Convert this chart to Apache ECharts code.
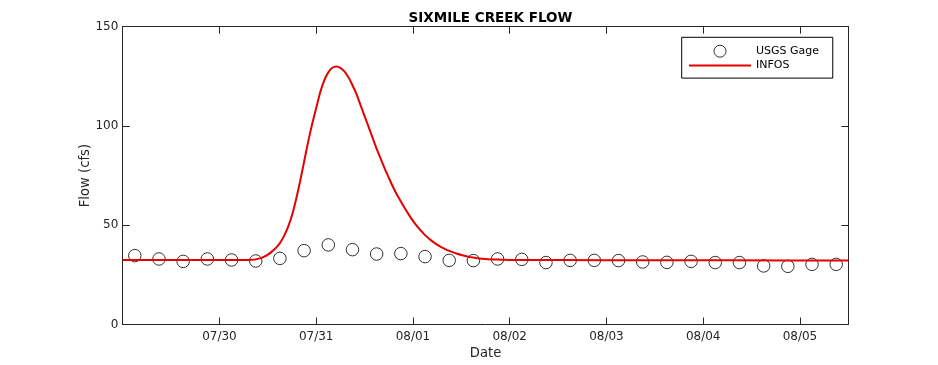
<!DOCTYPE html>
<html>
<head>
<meta charset="utf-8">
<script src="https://cdn.jsdelivr.net/npm/echarts@6/dist/echarts.min.js"></script>
<style>
html,body{margin:0;padding:0;background:#fff;}
#chart{width:938px;height:365px;}
</style>
</head>
<body>
<div id="chart"></div>
<script>
// Hours since 07/29 00:00
var tickLabels = ['07/29','07/30','07/31','08/01','08/02','08/03','08/04','08/05'];
var usgsHours = [3,9,15,21,27,33,39,45,51,57,63,69,75,81,87,93,99,105,111,117,123,129,135,141,147,153,159,165,171,177];
var usgsFlow  = [34.7,33.0,31.8,33.0,32.5,32.0,33.3,37.2,40.1,37.7,35.5,35.7,34.2,32.3,32.2,33.0,32.8,31.2,32.3,32.3,32.2,31.5,31.3,31.8,31.2,31.2,29.5,29.3,30.3,30.3];
var infosHours = [0,12,24,30,32,33,34,35,36,37,38,39,40,41,42,43,44,45,46,47,48,49,50,51,52,53,54,55,56,57,58,59,60,61,62,63,64,65,66,67,68,69,70,71,72,73,74,75,76,77,78,79,80,81,82,83,84,85,86,88,90,93,96,120,150,180];
var infosFlow  = [32.5,32.5,32.5,32.5,32.6,32.8,33.3,34.1,35.2,36.7,38.6,41,44.5,49,55,63,72,82,92,101,109,117,123,127,129.3,130,129.3,127.5,124.5,120.5,116,110.5,105,99.5,94,88.5,83.5,78.5,74,69.5,65.5,62,58.5,55.2,52.2,49.5,47.2,45,43.2,41.6,40.2,39,38,37.1,36.3,35.6,35,34.5,34,33.4,33,32.7,32.5,32.4,32.3,32.2];

function pairs(xs, ys){ return xs.map(function(x,i){return [x, ys[i]];}); }

var FONT = 'DejaVu Sans';
var AX = '#262626';
var RED = '#e60000';
var chart = echarts.init(document.getElementById('chart'), null, {renderer:'canvas'});
var xBase = {
  type:'value', min:0, max:180, interval:24,
  axisLine:{show:true, onZero:false, lineStyle:{color:AX, width:1}},
  axisTick:{show:true, inside:true, length:7, lineStyle:{color:AX}},
  splitLine:{show:false}
};
var yBase = {
  type:'value', min:0, max:150, interval:50,
  axisLine:{show:true, onZero:false, lineStyle:{color:AX, width:1}},
  axisTick:{show:true, inside:true, length:7, lineStyle:{color:AX}},
  splitLine:{show:false}
};
chart.setOption({
  animation:false,
  backgroundColor:'#fff',
  title:{
    text:'SIXMILE CREEK FLOW', left:485.5, top:6, textAlign:'center',
    textStyle:{fontFamily:FONT, fontSize:13.5, fontWeight:'bold', color:'#000'}
  },
  grid:{left:122.7, right:89.7, top:26.7, bottom:40},
  legend:{
    orient:'vertical', left:681.7, top:37.3,
    padding:[7.4,13.7,7,7.3],
    borderColor:'#000', borderWidth:1, backgroundColor:'#fff',
    itemWidth:62, itemHeight:12, itemGap:2.4,
    textStyle:{fontFamily:FONT, fontSize:11, color:'#000'},
    data:[
      {name:'USGS Gage', icon:'circle', itemStyle:{color:'rgba(0,0,0,0)', borderColor:'#000', borderWidth:1}},
      {name:'INFOS', icon:'path://M0,0L62,0L62,2L0,2Z', itemStyle:{color:RED, borderWidth:0}}
    ]
  },
  xAxis:[
    Object.assign({}, xBase, {
      position:'bottom',
      axisLabel:{show:true, margin:6, fontFamily:FONT, fontSize:12, color:AX,
        formatter:function(v){ if (v % 24 !== 0 || v === 0) return ''; return tickLabels[v/24] || ''; }},
      name:'Date', nameLocation:'middle', nameGap:22.5, nameMoveOverlap:false,
      nameTextStyle:{fontFamily:FONT, fontSize:13.2, color:AX}
    }),
    Object.assign({}, xBase, {position:'top', axisLabel:{show:false}})
  ],
  yAxis:[
    Object.assign({}, yBase, {
      position:'left',
      axisLabel:{show:true, margin:4.4, fontFamily:FONT, fontSize:12, color:AX},
      name:'Flow (cfs)', nameLocation:'middle', nameGap:31, nameMoveOverlap:false,
      nameTextStyle:{fontFamily:FONT, fontSize:13.2, color:AX}
    }),
    Object.assign({}, yBase, {position:'right', axisLabel:{show:false}})
  ],
  series:[
    {
      name:'USGS Gage', type:'scatter', xAxisIndex:0, yAxisIndex:0,
      data:pairs(usgsHours, usgsFlow),
      symbol:'circle', symbolSize:12.5,
      itemStyle:{color:'rgba(0,0,0,0)', borderColor:'#000', borderWidth:1},
      z:2
    },
    {
      name:'INFOS', type:'line', xAxisIndex:0, yAxisIndex:0,
      data:pairs(infosHours, infosFlow),
      symbol:'none', showSymbol:false, smooth:0.2,
      lineStyle:{color:RED, width:2},
      itemStyle:{color:RED},
      z:3
    }
  ]
});
</script>
</body>
</html>
